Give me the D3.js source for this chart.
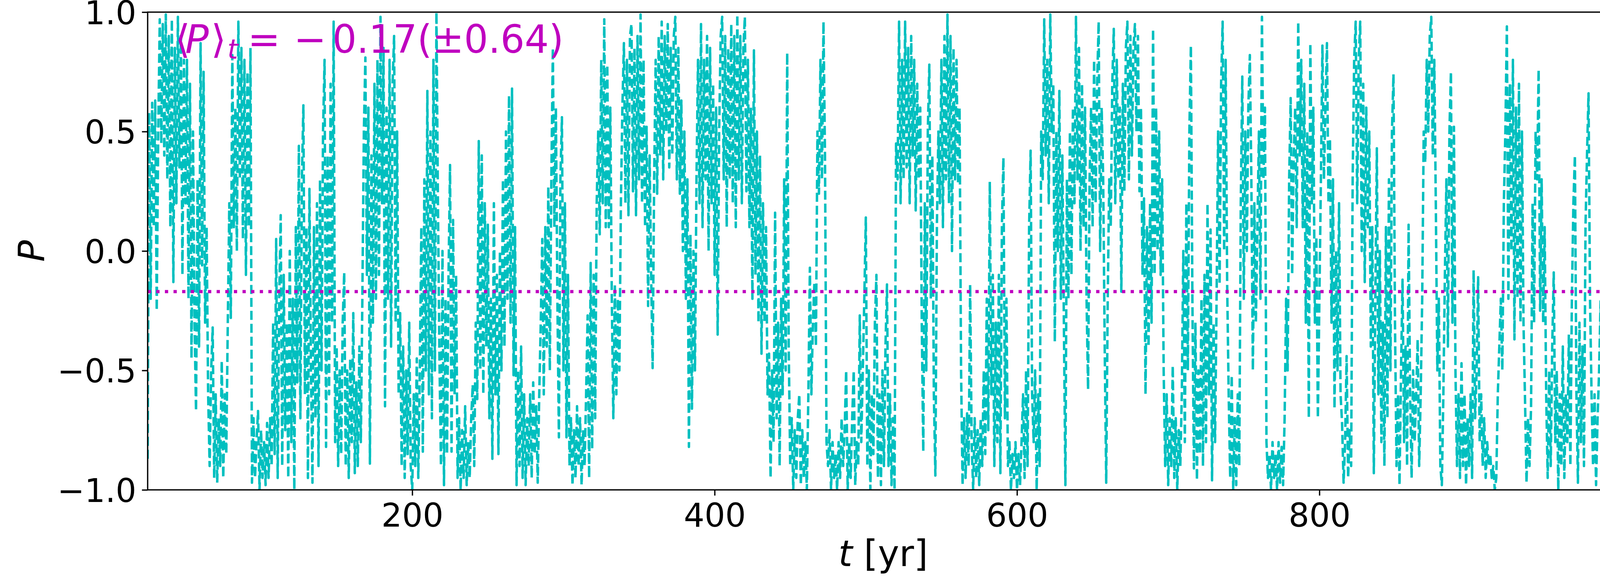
<!DOCTYPE html>
<html><head><meta charset="utf-8">
<script src="https://cdn.jsdelivr.net/npm/d3@7"></script>
<style>html,body{margin:0;padding:0;background:#fff;overflow:hidden;width:4153px;height:1481px;} svg{display:block;}</style>
</head><body><div id="chart"></div>
<script>
// ---------- data ----------
const tStart = 25;      // first year of the series
const tStep = 1;        // sampling step [yr]
const pValues = [
-0.87,0.58,-0.2,0.62,0.1,0.63,-0.25,0.5,0.97,0.45,
0.95,0.4,0.99,0.3,0.9,0.1,0.97,-0.13,0.85,0.2,
0.98,0.35,0.9,-0.1,0.8,0.2,0.8,-0.2,0.7,-0.45,
0.5,-0.3,-0.67,0.3,-0.4,0.87,-0.06,0.75,-0.3,0.1,
-0.6,-0.9,-0.5,-0.32,-0.95,-0.6,-0.97,-0.7,-0.9,-0.46,
-0.95,-0.6,-0.85,-0.3,0.2,-0.28,0.82,0.1,0.6,0.0,
0.96,0.3,0.85,0.05,0.8,-0.1,0.75,0.1,0.85,-0.97,
-0.7,-0.95,-0.8,-0.67,-1.0,-0.75,-0.95,-0.8,-0.98,-0.72,
-0.95,-0.7,-0.9,-0.3,-0.85,0.05,-0.95,-0.2,0.15,-0.9,
-0.1,-0.75,-0.3,-0.95,0.0,-0.8,-0.2,-1.0,0.1,-0.55,
0.44,-0.7,0.3,0.61,-0.6,0.1,-0.95,0.26,-0.5,-0.97,
0.1,-0.7,0.2,-0.9,0.3,-0.5,0.5,0.8,-0.82,0.4,
-0.6,0.7,-0.3,0.96,-0.8,-0.4,-0.9,-0.5,-0.85,-0.3,
-0.09,-0.9,-0.5,-0.95,-0.45,-0.8,-0.26,-0.93,-0.55,-0.9,
-0.4,-0.8,-0.2,0.5,0.81,-0.1,0.6,-0.89,0.4,-0.3,
0.7,-0.2,0.8,-0.1,0.98,0.2,0.85,-0.65,0.6,-0.2,
0.8,-0.4,0.7,0.9,-0.3,0.5,-0.6,-0.26,-0.9,-0.4,
-0.95,-0.5,-0.85,-0.3,-0.9,-1.0,-0.6,-0.9,-0.45,-0.95,
-0.5,0.1,-0.84,0.3,-0.5,0.67,-0.6,0.5,-0.7,0.8,
-0.5,1.0,0.2,-0.45,-0.9,0.0,-0.98,-0.2,-0.85,-0.1,
0.36,-0.84,0.13,-0.6,-0.1,-0.95,-0.7,-1.0,-0.75,-0.95,
-0.65,-0.98,-0.8,-0.95,-0.7,-0.56,-0.9,-0.3,-0.62,0.46,
-0.5,0.4,-0.6,0.2,-0.4,0.11,-0.7,-0.2,-0.87,0.2,
-0.6,-0.1,-0.85,0.0,-0.5,0.3,-0.4,0.5,-0.2,0.65,
-0.3,0.68,-0.52,0.1,-0.98,-0.5,-0.9,-0.4,-0.95,-0.6,
-0.98,-0.7,-0.9,-0.6,-0.95,-0.55,-0.85,-0.65,-0.97,-0.6,
-0.3,0.05,-0.6,0.1,-0.4,0.27,-0.5,0.3,0.85,0.1,
0.6,-0.2,-0.78,0.3,0.56,-0.5,0.2,-0.78,-0.1,-0.9,
-0.7,-0.98,-0.75,-0.95,-0.65,-0.9,-0.7,-0.98,-0.75,-0.9,
-0.6,-0.27,-0.95,-0.05,-0.83,-0.1,-0.7,0.2,0.5,0.07,
0.8,0.2,0.97,0.1,0.78,0.1,0.6,-0.2,-0.7,-0.14,
-0.6,-0.2,-0.5,0.2,0.6,0.87,0.2,0.8,0.15,0.9,
0.95,0.25,0.85,0.15,0.9,0.3,0.99,0.2,0.8,0.1,
0.52,-0.23,0.4,-0.1,-0.49,0.3,0.8,0.24,0.9,0.4,
0.96,0.3,0.9,0.5,0.95,0.35,0.85,0.4,0.9,0.98,
0.3,0.85,0.24,0.63,0.0,0.5,-0.2,0.3,-0.82,0.07,
-0.66,0.0,-0.5,0.3,0.8,0.2,0.95,0.1,0.8,0.3,
0.9,0.0,0.85,0.2,0.7,-0.1,0.6,-0.35,0.5,0.9,
0.98,0.3,0.9,0.1,0.85,0.3,0.95,0.2,0.9,0.1,
0.99,0.3,0.9,0.2,0.85,0.98,0.25,0.8,0.1,0.6,
-0.2,0.84,-0.1,0.5,-0.3,0.4,-0.43,0.2,-0.3,0.1,
-0.6,-0.43,-0.95,-0.5,-0.8,0.16,-0.7,-0.3,-0.9,-0.2,
-0.6,0.3,-0.5,0.83,-0.4,-0.9,-0.7,-1.0,-0.75,-0.95,
-0.7,-0.6,-0.98,-0.75,-0.95,-0.8,-1.0,-0.6,-0.07,-0.6,
-0.3,-0.13,-0.4,0.5,0.24,0.8,0.3,0.96,0.4,-0.8,
-0.9,-0.75,-1.0,-0.8,-0.95,-0.85,-1.0,-0.8,-0.95,-0.7,
-0.9,-0.75,-0.5,-1.0,-0.8,-0.95,-0.7,-0.5,-0.98,-0.8,
-0.9,-0.27,-0.8,-0.5,-0.2,0.14,-0.9,-0.5,-1.0,-0.6,
-0.85,-0.3,-0.1,-0.95,-0.6,-0.98,-0.5,-0.9,-0.4,-0.14,
-0.9,-0.6,-0.98,-0.7,-1.0,0.45,0.3,0.96,0.2,0.8,
0.3,0.96,0.35,0.85,0.2,0.9,0.4,0.8,0.17,0.7,
0.3,0.6,-0.3,-0.84,0.2,-0.5,0.5,0.78,-0.2,0.4,
-0.6,-0.94,0.1,0.5,0.2,0.8,0.1,0.9,0.3,0.99,
0.2,0.9,0.0,0.85,0.3,0.8,0.28,0.6,-0.5,-0.98,
-0.7,-0.95,-0.68,-0.9,-0.14,-0.8,-1.0,-0.7,-0.95,-0.75,
-0.98,-0.7,-0.9,-0.5,-0.85,-0.2,-0.75,0.29,-0.6,-0.1,
-0.9,-0.3,-0.8,-0.1,-0.93,0.1,0.39,-0.7,-0.2,-0.9,
-0.8,-1.0,-0.85,-0.95,-0.8,-1.0,-0.85,-0.98,-0.8,-0.6,
-0.95,-0.5,-0.9,0.1,0.42,-0.6,-0.8,-0.5,-1.0,-0.6,
-0.9,0.5,0.3,0.97,0.4,0.8,0.2,0.99,0.5,0.7,
-0.38,0.5,0.0,0.67,-0.2,0.4,-0.3,-0.98,0.3,-0.2,
0.5,-0.1,0.6,0.2,0.98,0.3,0.85,0.0,0.7,0.1,
0.6,-0.2,-0.58,0.3,0.6,0.1,0.8,0.2,0.7,0.96,
0.0,0.6,0.3,-0.4,-0.97,-0.2,0.3,0.1,0.7,0.93,
0.2,0.8,0.3,0.6,-0.17,0.7,0.25,0.85,0.96,0.3,
0.9,0.4,0.85,0.95,0.5,0.9,0.25,0.6,-0.1,0.22,
-0.6,0.1,-0.4,0.2,-0.3,0.93,-0.1,0.6,0.0,0.5,
-0.1,0.3,-0.5,-0.9,-0.6,-0.98,-0.7,-0.9,-0.48,-0.95,
-0.7,-1.0,-0.75,-0.9,-0.6,0.0,-0.8,0.2,-0.5,0.5,
0.86,-0.2,-0.91,-0.3,-0.96,-0.5,-0.85,-0.2,-0.9,-0.1,
-0.8,0.2,-0.6,0.09,-0.96,-0.3,-0.8,-0.2,0.5,-0.14,
0.7,0.96,0.0,0.8,-0.14,-0.6,-0.95,-0.52,-1.0,-0.7,
-0.98,-0.6,-0.9,0.2,0.73,-0.2,0.5,0.0,0.6,0.82,
0.3,-0.5,0.2,-0.3,0.1,0.5,-0.2,0.98,0.3,0.6,
-0.8,-0.95,-0.85,-1.0,-0.8,-0.95,-0.85,-1.0,-0.8,-0.97,
-0.82,-0.98,-0.7,-0.2,-0.5,0.3,0.64,-0.1,0.4,0.6,
0.1,0.96,0.4,0.8,0.1,0.7,-0.3,0.5,-0.7,0.87,
0.2,0.6,-0.3,0.06,-0.7,-0.2,0.3,0.86,0.3,0.6,
0.87,0.2,0.47,-0.3,0.3,-0.66,0.0,-0.5,0.2,-0.6,
-0.72,-0.97,-0.8,-0.44,-0.95,-0.75,-0.9,0.3,0.8,0.96,
0.2,0.8,0.96,0.0,0.7,-0.13,0.6,0.1,0.5,-0.4,
0.1,-0.93,-0.2,0.43,-0.6,0.0,-0.8,-0.3,-0.9,0.1,
-0.7,0.3,-0.5,0.5,0.74,-0.3,-0.9,-0.6,-0.98,-0.5,
-0.12,-0.8,-0.4,-0.9,0.11,-0.6,-0.95,-0.5,-0.8,-0.6,
-0.37,-0.9,-0.6,-0.2,0.5,0.37,0.8,0.5,0.9,0.98,
0.4,0.8,0.2,-0.5,-0.2,-0.9,-0.98,-0.6,-0.1,0.3,
-0.4,0.5,0.75,-0.3,0.52,-0.5,-0.9,-0.6,-0.95,-0.47,
-0.9,-0.6,-0.98,-0.7,-0.9,-0.6,-0.95,-0.08,-0.7,-0.5,
-0.11,-0.8,-0.6,-0.9,-0.7,-0.95,-0.8,-0.9,-0.85,-0.95,
-0.9,-1.0,-0.95,-0.6,-0.4,-0.2,-0.5,0.2,0.5,0.94,
-0.2,0.7,0.0,0.8,-0.37,0.6,-0.2,0.7,-0.3,0.5,
-0.3,-0.62,-0.97,-0.7,-0.9,-0.65,0.2,-0.3,0.5,0.3,
0.76,-0.25,0.3,-0.3,0.1,-0.6,-0.95,-0.5,-0.9,-0.4,
-0.09,-0.8,-0.5,-1.0,-0.6,-0.9,-0.4,-0.95,-0.6,-0.8,
-0.35,-0.9,-0.2,0.2,0.4,-0.6,-0.97,-0.3,-0.8,-0.4,
-0.9,0.1,0.4,0.66,-0.2,-0.6,-0.9,-0.6,-0.98,-0.7,
-0.5,-0.21,-0.9,-0.6,-0.98,-0.7,-0.3,0.2,0.6,0.0,
0.86,0.3,0.7,0.5
];
const xDomain = [25, 998];
const yDomain = [-1, 1];
const xTickValues = [200, 400, 600, 800];
const yTickValues = [-1, -0.5, 0, 0.5, 1];
const meanP = -0.17;
const stdP = 0.64;

// ---------- layout ----------
const W = 4153, H = 1481;
const L = 378, R = 4144, T = 31, B = 1253;
const FONT = "'DejaVu Sans', 'Liberation Sans', sans-serif";
const CYAN = "#00bfbf", MAGENTA = "#bf00bf";
const LW = 6.25;

const svg = d3.select("#chart").append("svg")
  .attr("width", W).attr("height", H).attr("viewBox", `0 0 ${W} ${H}`)
  .style("background", "#fff");

const x = d3.scaleLinear().domain(xDomain).range([L, R]);
const y = d3.scaleLinear().domain(yDomain).range([B, T]);

svg.append("defs").append("clipPath").attr("id", "plotclip")
  .append("rect").attr("x", L).attr("y", T).attr("width", R - L).attr("height", B - T);

// data line
const series = pValues.map((p, i) => ({t: tStart + i * tStep, p}));
const line = d3.line().x(d => x(d.t)).y(d => y(d.p));
svg.append("path").datum(series)
  .attr("clip-path", "url(#plotclip)")
  .attr("d", line)
  .attr("fill", "none").attr("stroke", CYAN).attr("stroke-width", LW)
  .attr("stroke-dasharray", `${3.7 * LW},${1.6 * LW}`)
  .attr("stroke-linejoin", "round").attr("stroke-linecap", "butt");

// mean line
const mlw = 8.33;
svg.append("line")
  .attr("x1", x(xDomain[0])).attr("x2", x(xDomain[1]))
  .attr("y1", y(meanP)).attr("y2", y(meanP))
  .attr("stroke", MAGENTA).attr("stroke-width", mlw)
  .attr("stroke-dasharray", `${mlw},${1.65 * mlw}`);

// axes
const tickLen = 14.6, axisW = 3.33, tickFont = 83.3;
const fmtY = d => (d < 0 ? "\u2212" : "") + Math.abs(d).toFixed(1);

const gx = svg.append("g").attr("transform", `translate(0,${B})`)
  .call(d3.axisBottom(x).tickValues(xTickValues).tickSize(tickLen).tickSizeOuter(0)
    .tickPadding(20.4).tickFormat(d3.format("d")));
const gy = svg.append("g").attr("transform", `translate(${L},0)`)
  .call(d3.axisLeft(y).tickValues(yTickValues).tickSize(tickLen).tickSizeOuter(0)
    .tickPadding(14.4).tickFormat(fmtY));
[gx, gy].forEach(g => {
  g.select(".domain").remove();
  g.selectAll(".tick line").attr("stroke", "#000").attr("stroke-width", axisW);
  g.selectAll(".tick text").attr("fill", "#000")
    .style("font-family", FONT).style("font-size", tickFont + "px");
});
gy.selectAll(".tick text").attr("dy", "0.365em");

// frame
svg.append("rect").attr("x", L).attr("y", T).attr("width", R - L).attr("height", B - T)
  .attr("fill", "none").attr("stroke", "#000").attr("stroke-width", axisW);

// axis labels
const labFont = 92;
const xl = svg.append("text").attr("x", (L + R) / 2).attr("y", 1448)
  .attr("text-anchor", "middle").style("font-family", FONT).style("font-size", labFont + "px");
xl.append("tspan").style("font-style", "italic").text("t");
xl.append("tspan").text(" [yr]");

svg.append("text").attr("transform", `translate(113,${(T + B) / 2}) rotate(-90)`)
  .attr("text-anchor", "middle").style("font-family", FONT).style("font-size", labFont + "px")
  .style("font-style", "italic").text("P");

// annotation
const ann = svg.append("g").attr("fill", MAGENTA).style("font-family", FONT);
const annBase = 135, annFont = 100;
const pieces = [
  {s: "\u27E8", x: 448, it: false},
  {s: "P", x: 474, it: true},
  {s: "\u27E9", x: 540, it: false},
  {s: "t", x: 582, it: true, sub: true},
  {s: "=", x: 634, it: false},
  {s: "\u2212", x: 752, it: false},
  {s: `${Math.abs(meanP).toFixed(2)}(\u00B1${stdP.toFixed(2)})`, x: 851, it: false, fit: 592}
];
pieces.forEach(pc => {
  const t = ann.append("text").attr("x", pc.x).attr("y", pc.sub ? annBase + 15 : annBase)
    .style("font-size", (pc.sub ? 70 : annFont) + "px")
    .style("font-style", pc.it ? "italic" : "normal")
    .text(pc.s);
  if (pc.fit) t.attr("textLength", pc.fit).attr("lengthAdjust", "spacingAndGlyphs");
});
</script>
</body></html>
